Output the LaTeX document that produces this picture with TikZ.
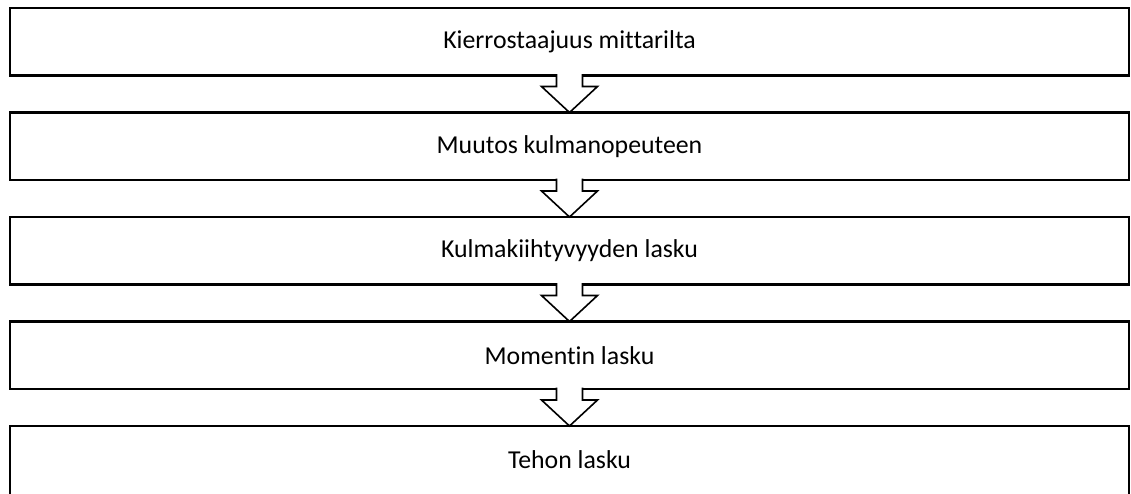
\documentclass[tikz,border=0pt]{standalone}
\usepackage{fontspec}
\setmainfont{Carlito}[Ligatures={NoCommon}]
\usetikzlibrary{calc,
  positioning
}
\tikzstyle{stepbox} = [draw, line width=2.4pt, minimum width=1119pt,
  minimum height=67.5pt, outer sep=0pt, inner sep=0pt,
  font=\fontsize{25.8}{30}\selectfont]
\tikzstyle{hollowarrow} = [draw, fill=white, line width=1.6pt, line join=miter]

\begin{document}
\begin{tikzpicture}[x=1pt, y=1pt, node distance=37pt]
  \useasboundingbox (0,0) rectangle (1131,-493);

  % steps
  \node[stepbox] (kierros) at (569.5,-41.75) {Kierrostaajuus mittarilta};
  \node[stepbox, below=of kierros] (kulmanop) {Muutos kulmanopeuteen};
  \node[stepbox, below=of kulmanop] (kiiht) {Kulmakiihtyvyyden lasku};
  \node[stepbox, below=of kiiht] (momentti) {Momentin lasku};
  \node[stepbox, below=of momentti, minimum height=72pt] (teho) {};
  \node at ($(teho.north)+(0,-33.75)$) [font=\fontsize{25.8}{30}\selectfont] (tehoteksti) {Tehon lasku};

  % hollow arrows between the steps
  \foreach \a/\b in {kierros/kulmanop, kulmanop/kiiht, kiiht/momentti, momentti/teho} {
    \draw[hollowarrow] ($(\a.south)+(-13,1.3)$) -- ++(0,-12.3) -- ++(-15,0)
      -- (\b.north) -- ($(\a.south)+(28,-11)$) -- ++(-15,0) -- ++(0,12.3);
  }
\end{tikzpicture}
\end{document}
